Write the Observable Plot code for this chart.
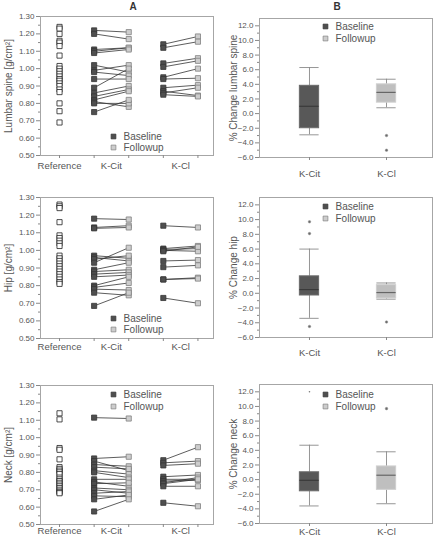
<!DOCTYPE html>
<html><head><meta charset="utf-8">
<script src="https://cdn.jsdelivr.net/npm/d3@7"></script>
<script src="https://cdn.jsdelivr.net/npm/@observablehq/plot@0.6"></script>
<style>
body{margin:0;background:#fff;font-family:"Liberation Sans",Arial,sans-serif}
#wrap{position:relative;width:436px;height:536px;overflow:hidden;background:#fff}
.panel{position:absolute}
.title{position:absolute;font-weight:bold;font-size:10px;color:#333;transform:translate(-50%,-50%)}
</style></head><body><div id="wrap"></div>
<script>
// ---------- data ----------
const categories = ["Reference", "K-Cit", "K-Cl"];
const boxGroups = ["K-Cit", "K-Cl"];
const seriesNames = ["Baseline", "Followup"];
const panelTitles = ["A", "B"];

const lumbarRef = [1.24,1.23,1.20,1.16,1.15,1.13,1.075,1.015,1.00,0.985,0.97,0.955,0.94,0.93,0.915,0.90,0.88,0.865,0.80,0.755,0.69];
const lumbarCitBase = [1.22,1.20,1.11,1.10,1.09,1.02,0.99,0.98,0.94,0.89,0.86,0.84,0.82,0.81,0.80,0.75];
const lumbarCitFollow = [1.21,1.17,1.12,1.12,1.11,0.98,1.02,0.96,0.94,1.00,0.90,0.88,0.87,0.78,0.80,0.82];
const lumbarClBase = [1.14,1.12,1.03,1.01,0.95,0.94,0.89,0.87,0.86,0.85];
const lumbarClFollow = [1.185,1.155,1.06,1.045,1.00,0.945,0.905,0.845,0.89,0.84];

const hipRef = [1.26,1.25,1.24,1.16,1.085,1.07,1.055,1.04,1.025,0.97,0.955,0.94,0.925,0.91,0.895,0.88,0.865,0.85,0.835,0.82,0.81];
const hipCitBase = [1.18,1.13,1.125,0.97,0.96,0.95,0.93,0.89,0.88,0.865,0.85,0.80,0.79,0.78,0.76,0.685];
const hipCitFollow = [1.175,1.14,1.13,0.955,0.94,0.97,1.015,0.93,0.89,0.875,0.86,0.85,0.815,0.775,0.745,0.76];
const hipClBase = [1.14,1.01,1.005,1.00,0.995,0.94,0.905,0.835,0.835,0.73];
const hipClFollow = [1.13,1.025,1.01,0.995,1.02,0.945,0.915,0.845,0.84,0.70];

const neckRef = [1.14,1.105,0.94,0.93,0.875,0.83,0.82,0.81,0.80,0.79,0.77,0.76,0.75,0.74,0.73,0.72,0.71,0.70,0.69,0.685,0.68];
const neckCitBase = [1.115,0.88,0.865,0.845,0.83,0.81,0.80,0.76,0.745,0.735,0.71,0.70,0.68,0.665,0.645,0.575];
const neckCitFollow = [1.11,0.89,0.81,0.835,0.82,0.79,0.77,0.76,0.72,0.74,0.70,0.68,0.69,0.66,0.67,0.645];
const neckClBase = [0.87,0.855,0.84,0.775,0.76,0.75,0.74,0.735,0.72,0.625];
const neckClFollow = [0.945,0.865,0.85,0.785,0.76,0.755,0.77,0.76,0.72,0.605];

// box summaries: [K-Cit, K-Cl]
const lumbarLow = [-2.9, 0.8], lumbarQ1 = [-2.0, 1.5], lumbarMed = [1.0, 2.9], lumbarQ3 = [3.8, 4.0], lumbarHigh = [6.3, 4.7];
const lumbarOutliers = [[], [-3.0, -5.0]];
const hipLow = [-3.4, -0.8], hipQ1 = [-0.3, -0.7], hipMed = [0.5, 0.1], hipQ3 = [2.3, 1.1], hipHigh = [6.0, 1.4];
const hipOutliers = [[9.7, 8.1, -4.5], [-3.9]];
const neckLow = [-3.6, -3.3], neckQ1 = [-1.6, -1.4], neckMed = [-0.1, 0.6], neckQ3 = [1.0, 1.8], neckHigh = [4.7, 3.8];
const neckOutliers = [[12.0], [9.7]];

const yTicksA = d3.range(5, 14).map(d => d / 10);
const yMinorA = d3.range(5, 13).map(d => d / 10 + 0.05);
const yTicksB = d3.range(-6, 13, 2);
const yMinorB = d3.range(-5, 13, 2);

// ---------- drawing ----------
const wrap = document.getElementById("wrap");
const FONT = "Liberation Sans, Arial, sans-serif";
const TXT = "#555";
const BASE_FILL = "#4f4f4f", BASE_STROKE = "#353535";
const FOLL_FILL = "#cdcdcd", FOLL_STROKE = "#808080";

function place(node, left, top) {
  const d = document.createElement("div");
  d.className = "panel"; d.style.left = left + "px"; d.style.top = top + "px";
  d.appendChild(node); wrap.appendChild(d);
}

function legendMarks(sqDx, txDx, dy1, dy2) {
  const rows = [[dy1, BASE_FILL, BASE_STROKE, seriesNames[0]], [dy2, FOLL_FILL, FOLL_STROKE, seriesNames[1]]];
  return rows.flatMap(([dy, f, s, t]) => [
    Plot.dot({length: 1}, {frameAnchor: "top-left", dx: sqDx, dy, symbol: "square", r: 2.7, fill: f, stroke: s, strokeWidth: 0.7}),
    Plot.text({length: 1}, {frameAnchor: "top-left", dx: txDx, dy, text: () => t, textAnchor: "start", lineAnchor: "middle", fontSize: 10, fill: TXT})
  ]);
}

function panelA(o) {
  const xPos = {ref: 0, citB: 1, citF: 2, clB: 3, clF: 4};
  const labelPos = [0, 1.5, 3.5];
  const refD = o.ref.map(v => ({v}));
  const cit = o.citB.map((b, i) => ({b, f: o.citF[i]}));
  const cl = o.clB.map((b, i) => ({b, f: o.clF[i]}));
  const sq = {symbol: "square", r: 2.9, strokeWidth: 0.8};
  const p = Plot.plot({
    width: 218, height: o.height,
    marginLeft: 40, marginRight: 5, marginTop: o.mt, marginBottom: o.mb,
    style: {fontFamily: FONT, fontSize: "8px", background: "transparent"},
    x: {type: "linear", domain: [-0.55, 4.45], axis: null},
    y: {domain: [0.5, 1.3], axis: null},
    marks: [
      Plot.frame({stroke: "#a6a6a6"}),
      Plot.axisY(yTicksA, {tickFormat: d3.format(".2f"), tickSize: 4, tickPadding: 2, color: TXT, stroke: "#888", fontSize: 8, label: null}),
      Plot.axisY(yMinorA, {tickFormat: () => "", tickSize: 2, stroke: "#888", label: null}),
      Plot.axisX([0, 1, 2, 3, 4], {tickFormat: () => "", tickSize: 3, stroke: "#888", label: null}),
      Plot.axisX(labelPos, {tickFormat: (d) => categories[labelPos.indexOf(d)], tickSize: 0, tickPadding: o.labelPad, fontSize: 9.5, color: TXT, label: null}),
      Plot.text({length: 1}, {frameAnchor: "left", dx: -32, rotate: -90, textAnchor: "middle", text: () => o.label, fontSize: 10, fill: TXT}),
      Plot.link(cit, {x1: () => xPos.citB, x2: () => xPos.citF, y1: "b", y2: "f", stroke: "#333", strokeWidth: 0.8}),
      Plot.link(cl, {x1: () => xPos.clB, x2: () => xPos.clF, y1: "b", y2: "f", stroke: "#333", strokeWidth: 0.8}),
      Plot.dot(refD, {x: () => xPos.ref, y: "v", ...sq, fill: "white", stroke: "#222"}),
      Plot.dot(cit, {x: () => xPos.citB, y: "b", ...sq, fill: BASE_FILL, stroke: BASE_STROKE}),
      Plot.dot(cit, {x: () => xPos.citF, y: "f", ...sq, fill: FOLL_FILL, stroke: FOLL_STROKE}),
      Plot.dot(cl, {x: () => xPos.clB, y: "b", ...sq, fill: BASE_FILL, stroke: BASE_STROKE}),
      Plot.dot(cl, {x: () => xPos.clF, y: "f", ...sq, fill: FOLL_FILL, stroke: FOLL_STROKE}),
      ...legendMarks(73, 83, o.lg1, o.lg2)
    ]
  });
  place(p, 0, o.top);
}

function panelB(o) {
  const hw = 0.125;
  const boxes = boxGroups.map((g, i) => ({x: i + 1, low: o.low[i], q1: o.q1[i], med: o.med[i], q3: o.q3[i], high: o.high[i], fill: i === 0 ? "#585858" : "#bfbfbf", edge: i === 0 ? "#6a6a6a" : "#cfcfcf", medc: i === 0 ? "#3a3a3a" : "#666"}));
  const outs = o.outliers.flatMap((arr, i) => arr.map(v => ({x: i + 1, v})));
  const p = Plot.plot({
    width: 218, height: o.height,
    marginLeft: 41, marginRight: 4, marginTop: o.mt, marginBottom: o.mb,
    style: {fontFamily: FONT, fontSize: "8px", background: "transparent"},
    x: {type: "linear", domain: [0.351, 2.597], axis: null},
    y: {domain: [-6, 13], axis: null},
    marks: [
      Plot.frame({stroke: "#a6a6a6"}),
      Plot.axisY(yTicksB, {tickFormat: d3.format(".1f"), tickSize: 4, tickPadding: 2, color: TXT, stroke: "#888", fontSize: 8, label: null}),
      Plot.axisY(yMinorB, {tickFormat: () => "", tickSize: 2, stroke: "#888", label: null}),
      Plot.axisX([1, 2], {tickFormat: (d) => boxGroups[d - 1], tickSize: 3, tickPadding: o.labelPad, fontSize: 9.5, color: TXT, stroke: "#888", label: null}),
      Plot.text({length: 1}, {frameAnchor: "left", dx: -26, rotate: -90, textAnchor: "middle", text: () => o.label, fontSize: 10, fill: TXT}),
      Plot.ruleX(boxes, {x: "x", y1: "low", y2: "q1", stroke: "#8a8a8a", strokeWidth: 0.9}),
      Plot.ruleX(boxes, {x: "x", y1: "q3", y2: "high", stroke: "#8a8a8a", strokeWidth: 0.9}),
      Plot.ruleY(boxes, {y: "low", x1: d => d.x - hw, x2: d => d.x + hw, stroke: "#8a8a8a", strokeWidth: 0.9}),
      Plot.ruleY(boxes, {y: "high", x1: d => d.x - hw, x2: d => d.x + hw, stroke: "#8a8a8a", strokeWidth: 0.9}),
      Plot.rect(boxes, {x1: d => d.x - hw, x2: d => d.x + hw, y1: "q1", y2: "q3", fill: "fill", stroke: "edge", strokeWidth: 1}),
      Plot.ruleY(boxes, {y: "med", x1: d => d.x - hw, x2: d => d.x + hw, stroke: "medc", strokeWidth: 1.2}),
      Plot.dot(outs.filter(d => d.v < 11.5), {x: "x", y: "v", r: 1.3, fill: "#6a6a6a", stroke: "#9a9a9a", strokeWidth: 0.5}),
      Plot.dot(outs.filter(d => d.v >= 11.5), {x: "x", y: "v", r: 0.8, fill: "#777"}),
      ...legendMarks(66, 76, o.lg1, o.lg2)
    ]
  });
  place(p, 218, o.top);
}

panelA({ref: lumbarRef, citB: lumbarCitBase, citF: lumbarCitFollow, clB: lumbarClBase, clF: lumbarClFollow,
  label: "Lumbar spine [g/cm²]", top: 0, height: 178, mt: 16, mb: 23, labelPad: 7, lg1: 120, lg2: 131});
panelA({ref: hipRef, citB: hipCitBase, citF: hipCitFollow, clB: hipClBase, clF: hipClFollow,
  label: "Hip [g/cm²]", top: 180, height: 178, mt: 17, mb: 20, labelPad: 5, lg1: 121, lg2: 132});
panelA({ref: neckRef, citB: neckCitBase, citF: neckCitFollow, clB: neckClBase, clF: neckClFollow,
  label: "Neck [g/cm²]", top: 360, height: 176, mt: 25, mb: 12, labelPad: 3, lg1: 9, lg2: 21});

panelB({low: lumbarLow, q1: lumbarQ1, med: lumbarMed, q3: lumbarQ3, high: lumbarHigh, outliers: lumbarOutliers,
  label: "% Change lumbar spine", top: 0, height: 181, mt: 18, mb: 24, labelPad: 10, lg1: 8, lg2: 20});
panelB({low: hipLow, q1: hipQ1, med: hipMed, q3: hipQ3, high: hipHigh, outliers: hipOutliers,
  label: "% Change hip", top: 181, height: 177, mt: 16, mb: 21, labelPad: 9, lg1: 9, lg2: 21});
panelB({low: neckLow, q1: neckQ1, med: neckMed, q3: neckQ3, high: neckHigh, outliers: neckOutliers,
  label: "% Change neck", top: 360, height: 176, mt: 24, mb: 13, labelPad: 2, lg1: 10, lg2: 22});

[[panelTitles[0], 133], [panelTitles[1], 337]].forEach(([t, x]) => {
  const d = document.createElement("div");
  d.className = "title"; d.textContent = t; d.style.left = x + "px"; d.style.top = "6px";
  wrap.appendChild(d);
});
</script></body></html>
